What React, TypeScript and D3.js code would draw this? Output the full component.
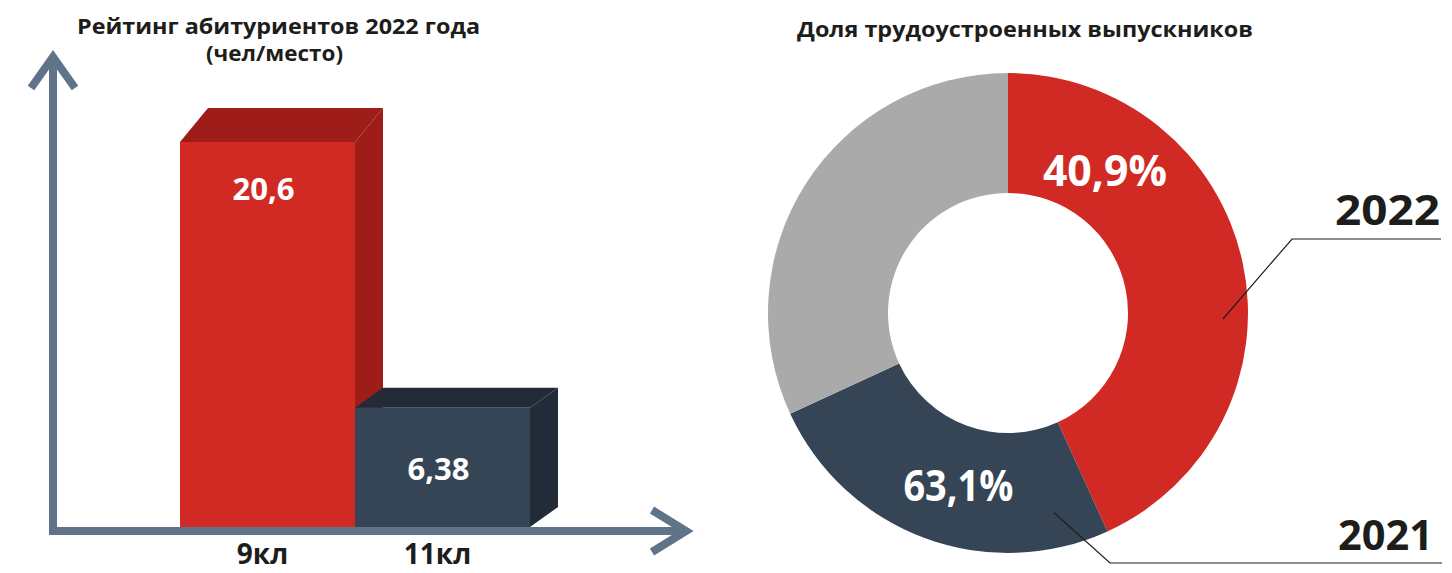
import React from "react";
import * as d3 from "d3";

const barCategories = ["9кл", "11кл"];
const barValues = [20.6, 6.38];
const barValueLabels = ["20,6", "6,38"];

const donutYears = ["2022", "2021", ""];
const donutShares = [43.2, 24.9, 31.9];
const donutLabels = ["40,9%", "63,1%", ""];

const leftTitle = ["Рейтинг абитуриентов 2022 года", "(чел/место)"];
const rightTitle = "Доля трудоустроенных выпускников";

const FONT = "'Open Sans', 'Noto Sans', sans-serif";
const BAR_FRONT = ["#D12A24", "#364555"];
const BAR_DARK = ["#9E1D19", "#212C38"];
const DONUT_COLORS = ["#D12A24", "#364555", "#AAAAAA"];
const AXIS = "#5F7389";

export default function App() {
  const W = 1452, H = 573;
  const axisX = 53, axisY = 531;
  const baseY = 527;

  const x = d3.scaleBand<string>().domain(barCategories).range([180, 530]).padding(0);
  const y = d3.scaleLinear().domain([0, 20.6]).range([baseY, 142]);
  const depthX = 28;
  const depthY = [34, 20];

  const cx = 1008, cy = 313;
  const rOuter = 240, rInner = 120;
  const pie = d3.pie<number>().sort(null).value((d) => d).startAngle(0).endAngle(2 * Math.PI);
  const arcs = pie(donutShares);
  const arcGen = d3.arc<d3.PieArcDatum<number>>().innerRadius(rInner).outerRadius(rOuter);

  const polar = (angDeg: number, r: number) => {
    const a = (angDeg * Math.PI) / 180;
    return [cx + r * Math.sin(a), cy - r * Math.cos(a)];
  };

  const labelPos = [polar(34.3, 172), polar(196, 180)];
  const labelWidths = [124, 110];
  const leaderStart = [polar(91.6, 215), polar(167, 205)];
  const leaderElbow = [[1292, 239], [1110, 563]];
  const leaderEnd = [1441, 1442];
  const yearBaseline = [225, 550];
  const yearWidths = [105, 95];
  const yearRight = [1440, 1433];

  return (
    <svg width={W} height={H} style={{ position: "absolute", left: 0, top: 0 }} fontFamily={FONT}>
      <rect width={W} height={H} fill="#fff" />
      {/* Left title */}
      <g fontWeight={700} fontSize={21} fill="#1d1d1b" textAnchor="middle">
        <text x={278.5} y={34} textLength={403} lengthAdjust="spacingAndGlyphs">{leftTitle[0]}</text>
        <text x={274.5} y={61} textLength={137} lengthAdjust="spacingAndGlyphs">{leftTitle[1]}</text>
      </g>
      {/* Bars */}
      {barValues.map((v, i) => {
        const x0 = x(barCategories[i])!;
        const x1 = x0 + x.bandwidth();
        const top = y(v);
        const dy = depthY[i];
        const topFace = `M${x0},${top}L${x0 + depthX},${top - dy}L${x1 + depthX},${top - dy}L${x1},${top}Z`;
        const sideFace = `M${x1},${top}L${x1 + depthX},${top - dy}L${x1 + depthX},${baseY - dy}L${x1},${baseY}Z`;
        return (
          <g key={i}>
            <path d={sideFace} fill={BAR_DARK[i]} />
            <path d={topFace} fill={BAR_DARK[i]} />
            <rect x={x0} y={top} width={x1 - x0} height={baseY - top} fill={BAR_FRONT[i]} />
          </g>
        );
      })}
      {barValues.map((v, i) => {
        const x0 = x(barCategories[i])!;
        const cxBar = x0 + x.bandwidth() / 2 - 4;
        const top = y(v);
        const ty = i === 0 ? 200 : top + (baseY - top) / 2 + 13;
        return (
          <text key={"l" + i} x={cxBar} y={ty} textAnchor="middle" fill="#fff" fontWeight={700} fontSize={31}>
            {barValueLabels[i]}
          </text>
        );
      })}
      {/* Axes */}
      <g stroke={AXIS} strokeWidth={8} fill="none" strokeLinecap="butt">
        <line x1={axisX} y1={axisY + 4} x2={axisX} y2={56} />
        <polyline points={`${axisX - 22},${88} ${axisX},${57} ${axisX + 22},${88}`} strokeLinejoin="miter" />
        <line x1={axisX - 4} y1={axisY} x2={686} y2={axisY} />
        <polyline points={`${652},${510} ${686},${axisY} ${652},${552}`} strokeLinejoin="miter" />
      </g>
      {barCategories.map((c, i) => (
        <text key={c} x={x(c)! + x.bandwidth() / 2 - 5} y={564} textAnchor="middle" fontWeight={700} fontSize={28} fill="#1d1d1b">
          {c}
        </text>
      ))}
      {/* Right title */}
      <text x={1025} y={37} textAnchor="middle" fontWeight={700} fontSize={21} fill="#1d1d1b" textLength={456} lengthAdjust="spacingAndGlyphs">
        {rightTitle}
      </text>
      {/* Donut */}
      <g transform={`translate(${cx},${cy})`}>
        {arcs.map((a, i) => (
          <path key={i} d={arcGen(a)!} fill={DONUT_COLORS[i]} />
        ))}
      </g>
      {donutLabels.map((l, i) =>
        l ? (
          <text key={"d" + i} x={labelPos[i][0]} y={labelPos[i][1] + 15} textAnchor="middle" fill="#fff" fontWeight={700} fontSize={43} textLength={labelWidths[i]} lengthAdjust="spacingAndGlyphs">
            {l}
          </text>
        ) : null
      )}
      {donutYears.map((yr, i) =>
        yr ? (
          <g key={"y" + i}>
            <polyline
              points={`${leaderStart[i][0]},${leaderStart[i][1]} ${leaderElbow[i][0]},${leaderElbow[i][1]} ${leaderEnd[i]},${leaderElbow[i][1]}`}
              fill="none"
              stroke="#1d1d1b"
              strokeWidth={1.2}
            />
            <text x={yearRight[i]} y={yearBaseline[i]} textAnchor="end" fontWeight={700} fontSize={42} fill="#1d1d1b" textLength={yearWidths[i]} lengthAdjust="spacingAndGlyphs">
              {yr}
            </text>
          </g>
        ) : null
      )}
    </svg>
  );
}
